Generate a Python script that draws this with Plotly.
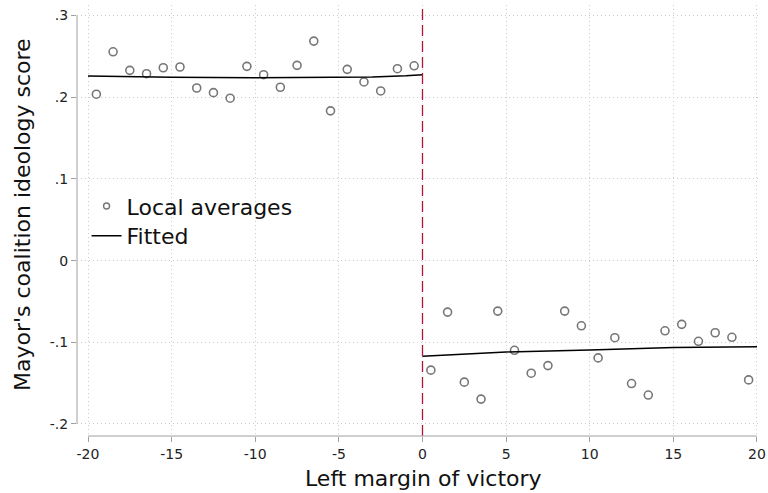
import plotly.graph_objects as go

# Local averages (bin midpoints)
x_left = [-19.5, -18.5, -17.5, -16.5, -15.5, -14.5, -13.5, -12.5, -11.5, -10.5,
          -9.5, -8.5, -7.5, -6.5, -5.5, -4.5, -3.5, -2.5, -1.5, -0.5]
y_left = [0.2037, 0.2556, 0.2329, 0.2288, 0.2361, 0.2370, 0.2113, 0.2056, 0.1988, 0.2378,
          0.2276, 0.2122, 0.2390, 0.2687, 0.1833, 0.2341, 0.2187, 0.2077, 0.2349, 0.2385]
x_right = [0.5, 1.5, 2.5, 3.5, 4.5, 5.5, 6.5, 7.5, 8.5, 9.5,
           10.5, 11.5, 12.5, 13.5, 14.5, 15.5, 16.5, 17.5, 18.5, 19.5]
y_right = [-0.1341, -0.0630, -0.1488, -0.1695, -0.0618, -0.1098, -0.1378, -0.1285, -0.0618, -0.0798,
           -0.1191, -0.0944, -0.1505, -0.1646, -0.0859, -0.0780, -0.0988, -0.0883, -0.0939, -0.1460]

# Fitted lines
fit_left_x = [-20, -15, -10, -5, -3, -1, 0]
fit_left_y = [0.2260, 0.2244, 0.2239, 0.2240, 0.2249, 0.2262, 0.2276]
fit_right_x = [0, 5, 10, 15, 20]
fit_right_y = [-0.1171, -0.1118, -0.1094, -0.1065, -0.1053]

x_ticks = [-20, -15, -10, -5, 0, 5, 10, 15, 20]
x_ticktext = ["-20", "-15", "-10", "-5", "0", "5", "10", "15", "20"]
y_ticks = [-0.2, -0.1, 0, 0.1, 0.2, 0.3]
y_ticktext = ["-.2", "-.1", "0", ".1", ".2", ".3"]

FONT = "DejaVu Sans"
GRAY = "#777777"

fig = go.Figure()
marker = dict(symbol="circle-open", size=8, color=GRAY, line=dict(width=1.6, color=GRAY))
fig.add_trace(go.Scatter(x=x_left + x_right, y=y_left + y_right, mode="markers",
                         marker=marker, showlegend=False))
fig.add_trace(go.Scatter(x=fit_left_x, y=fit_left_y, mode="lines",
                         line=dict(color="black", width=1.5), showlegend=False))
fig.add_trace(go.Scatter(x=fit_right_x, y=fit_right_y, mode="lines",
                         line=dict(color="black", width=1.5), showlegend=False))
# legend proxies
fig.add_trace(go.Scatter(x=[None], y=[None], mode="markers", name="Local averages",
                         legend="legend",
                         marker=dict(symbol="circle-open", size=6, color=GRAY,
                                     line=dict(width=1.4, color=GRAY))))
fig.add_trace(go.Scatter(x=[None], y=[None], mode="lines", name="Fitted",
                         legend="legend2",
                         line=dict(color="black", width=1.5)))

# vertical cutoff line
fig.add_shape(type="line", xref="x", yref="paper", x0=0, x1=0, y0=0, y1=1,
              line=dict(color="#b3143c", width=1.3, dash="11px,5px"))
# axis lines (Stata style, spanning tick range)
fig.add_shape(type="line", xref="paper", yref="y", x0=0, x1=0, y0=-0.2, y1=0.3,
              line=dict(color="#a0a0a0", width=1))
fig.add_shape(type="line", xref="x", yref="paper", x0=-20, x1=20, y0=0, y1=0,
              line=dict(color="#a0a0a0", width=1))

grid = dict(showgrid=True, gridcolor="#cccccc", gridwidth=1, griddash="1px,3px")
fig.update_xaxes(range=[-20.658, 20.18], tickvals=x_ticks, ticktext=x_ticktext,
                 ticks="outside", ticklen=5, tickcolor="#a0a0a0", showline=False, zeroline=False,
                 automargin=False, tickfont=dict(family=FONT, size=14, color="#222"), **grid)
fig.update_yaxes(range=[-0.2147, 0.3129], tickvals=y_ticks, ticktext=y_ticktext,
                 ticks="outside", ticklen=5, tickcolor="#a0a0a0", showline=False, zeroline=False,
                 automargin=False, tickfont=dict(family=FONT, size=14, color="#222"), **grid)

fig.add_annotation(text="Left margin of victory", xref="paper", yref="paper",
                   x=(423 - 77) / 683, y=(436 - 478) / 431, xanchor="center", yanchor="middle",
                   showarrow=False, font=dict(family=FONT, size=22, color="#111"))
fig.add_annotation(text="Mayor's coalition ideology score", xref="paper", yref="paper",
                   x=(22 - 77) / 683, y=(436 - 215) / 431, xanchor="center", yanchor="middle",
                   textangle=-90, showarrow=False, font=dict(family=FONT, size=22, color="#111"))

leg_common = dict(xanchor="left", yanchor="top", bgcolor="rgba(0,0,0,0)",
                  font=dict(family=FONT, size=22, color="#111"), itemwidth=30)
fig.update_layout(
    width=768, height=493,
    margin=dict(l=77, r=8, t=5, b=57, autoexpand=False),
    plot_bgcolor="white", paper_bgcolor="white",
    font=dict(family=FONT),
    legend=dict(x=0.014, y=0.582, **leg_common),
    legend2=dict(x=0.014, y=0.5128, **leg_common),
)

fig.write_html("out.html", config={"displayModeBar": False},
               post_script="document.body.style.margin='0px';document.body.style.overflow='hidden';")
